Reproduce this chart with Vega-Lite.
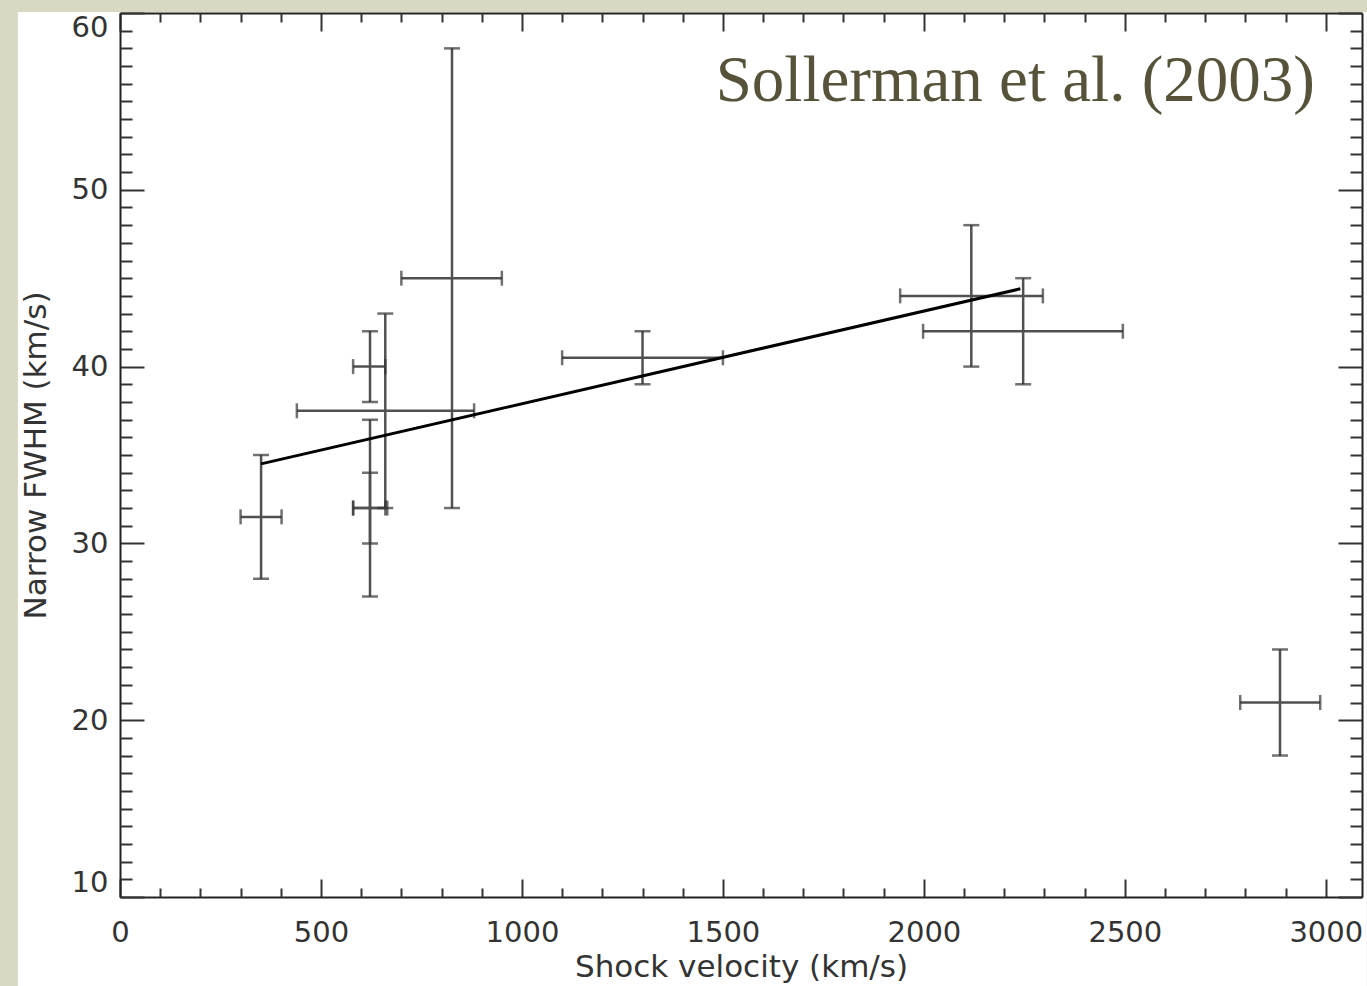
{
  "$schema": "https://vega.github.io/schema/vega-lite/v6.json",
  "width": 1242,
  "height": 884,
  "autosize": {"type": "none"},
  "padding": {"left": 120, "top": 13, "right": 5, "bottom": 89},
  "background": "#d9d8c3",
  "config": {
    "view": {"stroke": null},
    "axis": {
      "grid": false,
      "labelFont": "DejaVu Sans",
      "labelFontSize": 29,
      "labelColor": "#333333",
      "titleFont": "DejaVu Sans",
      "titleFontSize": 31,
      "titleFontWeight": "normal",
      "titleColor": "#333333",
      "tickColor": "#333333",
      "tickWidth": 2,
      "domainColor": "#222222",
      "domainWidth": 2
    }
  },
  "datasets": {
    "pts": [
      {"x": 351, "xlo": 300, "xhi": 402, "y": 31.5, "ylo": 28, "yhi": 35},
      {"x": 622, "xlo": 580, "xhi": 660, "y": 40, "ylo": 38, "yhi": 42},
      {"x": 660, "xlo": 440, "xhi": 881, "y": 37.5, "ylo": 32, "yhi": 43},
      {"x": 622, "xlo": 580, "xhi": 660, "y": 32, "ylo": 27, "yhi": 37},
      {"x": 622, "xlo": 580, "xhi": 665, "y": 32, "ylo": 30, "yhi": 34},
      {"x": 826, "xlo": 700, "xhi": 950, "y": 45, "ylo": 32, "yhi": 58},
      {"x": 1300, "xlo": 1100, "xhi": 1500, "y": 40.5, "ylo": 39, "yhi": 42},
      {"x": 2118, "xlo": 1941, "xhi": 2296, "y": 44, "ylo": 40, "yhi": 48},
      {"x": 2247, "xlo": 1998, "xhi": 2495, "y": 42, "ylo": 39, "yhi": 45},
      {"x": 2886, "xlo": 2787, "xhi": 2986, "y": 21, "ylo": 18, "yhi": 24}
    ],
    "fit": [
      {"x": 351, "y": 34.5},
      {"x": 2240, "y": 44.4}
    ],
    "note": [
      {"x": 2973, "y": 55.0, "label": "Sollerman et al. (2003)"}
    ]
  },
  "layer": [
    {
      "data": {"values": [{"x0": -254, "x1": 3102, "y0": 60.06, "y1": 4.97}]},
      "mark": {"type": "rect", "fill": "#ffffff", "stroke": null},
      "encoding": {
        "x": {"field": "x0", "type": "quantitative", "scale": {"domain": [0, 3090], "nice": false, "zero": false}, "axis": null},
        "x2": {"field": "x1"},
        "y": {"field": "y0", "type": "quantitative", "scale": {"domain": [10, 60], "nice": false, "zero": false}, "axis": null},
        "y2": {"field": "y1"}
      }
    },
    {
      "data": {"name": "pts"},
      "mark": {"type": "rule", "color": "#505050", "strokeWidth": 2.5},
      "encoding": {
        "x": {
          "field": "xlo", "type": "quantitative",
          "scale": {"domain": [0, 3090], "nice": false, "zero": false},
          "axis": {
            "orient": "bottom", "title": "Shock velocity (km/s)", "zindex": 2,
            "values": [0, 500, 1000, 1500, 2000, 2500, 3000], "format": "d",
            "tickSize": -18, "labelPadding": 39, "titlePadding": 5,
            "labelFlush": false, "domain": true
          }
        },
        "x2": {"field": "xhi"},
        "y": {
          "field": "y", "type": "quantitative",
          "scale": {"domain": [10, 60], "nice": false, "zero": false},
          "axis": {
            "orient": "left", "title": "Narrow FWHM (km/s)", "zindex": 2,
            "values": [10, 20, 30, 40, 50, 60], "format": "d",
            "tickSize": -24, "labelPadding": 36, "titlePadding": 19,
            "labelFlush": true, "domain": true
          }
        }
      }
    },
    {
      "data": {"name": "pts"},
      "mark": {"type": "rule", "color": "#505050", "strokeWidth": 2.5},
      "encoding": {
        "x": {
          "field": "x", "type": "quantitative",
          "scale": {"domain": [0, 3090], "nice": false, "zero": false},
          "axis": {
            "orient": "bottom", "title": null, "labels": false, "domain": false, "zindex": 2,
            "values": [100, 200, 300, 400, 600, 700, 800, 900, 1100, 1200, 1300, 1400, 1600, 1700, 1800, 1900, 2100, 2200, 2300, 2400, 2600, 2700, 2800, 2900],
            "tickSize": -9
          }
        },
        "y": {
          "field": "ylo", "type": "quantitative",
          "scale": {"domain": [10, 60], "nice": false, "zero": false},
          "axis": {
            "orient": "left", "title": null, "labels": false, "domain": false, "zindex": 2,
            "values": [11, 12, 13, 14, 15, 16, 17, 18, 19, 21, 22, 23, 24, 25, 26, 27, 28, 29, 31, 32, 33, 34, 35, 36, 37, 38, 39, 41, 42, 43, 44, 45, 46, 47, 48, 49, 51, 52, 53, 54, 55, 56, 57, 58, 59],
            "tickSize": -12
          }
        },
        "y2": {"field": "yhi"}
      }
    },
    {
      "data": {"name": "pts"},
      "mark": {"type": "tick", "orient": "vertical", "color": "#333333", "thickness": 2.5, "size": 15},
      "encoding": {
        "x": {
          "field": "xlo", "type": "quantitative",
          "scale": {"domain": [0, 3090], "nice": false, "zero": false},
          "axis": {
            "orient": "top", "title": null, "labels": false, "domain": true, "zindex": 2,
            "values": [0, 500, 1000, 1500, 2000, 2500, 3000],
            "tickSize": -18
          }
        },
        "y": {
          "field": "y", "type": "quantitative",
          "scale": {"domain": [10, 60], "nice": false, "zero": false},
          "axis": {
            "orient": "right", "title": null, "labels": false, "domain": true, "zindex": 2,
            "values": [10, 20, 30, 40, 50, 60],
            "tickSize": -24
          }
        }
      }
    },
    {
      "data": {"name": "pts"},
      "mark": {"type": "tick", "orient": "vertical", "color": "#333333", "thickness": 2.5, "size": 15},
      "encoding": {
        "x": {
          "field": "xhi", "type": "quantitative",
          "scale": {"domain": [0, 3090], "nice": false, "zero": false},
          "axis": {
            "orient": "top", "title": null, "labels": false, "domain": false, "zindex": 2,
            "values": [100, 200, 300, 400, 600, 700, 800, 900, 1100, 1200, 1300, 1400, 1600, 1700, 1800, 1900, 2100, 2200, 2300, 2400, 2600, 2700, 2800, 2900],
            "tickSize": -9
          }
        },
        "y": {
          "field": "y", "type": "quantitative",
          "scale": {"domain": [10, 60], "nice": false, "zero": false},
          "axis": {
            "orient": "right", "title": null, "labels": false, "domain": false, "zindex": 2,
            "values": [11, 12, 13, 14, 15, 16, 17, 18, 19, 21, 22, 23, 24, 25, 26, 27, 28, 29, 31, 32, 33, 34, 35, 36, 37, 38, 39, 41, 42, 43, 44, 45, 46, 47, 48, 49, 51, 52, 53, 54, 55, 56, 57, 58, 59],
            "tickSize": -12
          }
        }
      }
    },
    {
      "data": {"name": "pts"},
      "mark": {"type": "tick", "orient": "horizontal", "color": "#333333", "thickness": 2.5, "size": 16},
      "encoding": {
        "x": {"field": "x", "type": "quantitative", "scale": {"domain": [0, 3090], "nice": false, "zero": false}, "axis": null},
        "y": {"field": "ylo", "type": "quantitative", "scale": {"domain": [10, 60], "nice": false, "zero": false}, "axis": null}
      }
    },
    {
      "data": {"name": "pts"},
      "mark": {"type": "tick", "orient": "horizontal", "color": "#333333", "thickness": 2.5, "size": 16},
      "encoding": {
        "x": {"field": "x", "type": "quantitative", "scale": {"domain": [0, 3090], "nice": false, "zero": false}, "axis": null},
        "y": {"field": "yhi", "type": "quantitative", "scale": {"domain": [10, 60], "nice": false, "zero": false}, "axis": null}
      }
    },
    {
      "data": {"name": "fit"},
      "mark": {"type": "line", "color": "#000000", "strokeWidth": 3},
      "encoding": {
        "x": {"field": "x", "type": "quantitative", "scale": {"domain": [0, 3090], "nice": false, "zero": false}, "axis": null},
        "y": {"field": "y", "type": "quantitative", "scale": {"domain": [10, 60], "nice": false, "zero": false}, "axis": null}
      }
    },
    {
      "data": {"name": "note"},
      "mark": {"type": "text", "font": "Liberation Serif", "fontSize": 65, "color": "#57533a", "align": "right", "baseline": "alphabetic"},
      "encoding": {
        "x": {"field": "x", "type": "quantitative", "scale": {"domain": [0, 3090], "nice": false, "zero": false}, "axis": null},
        "y": {"field": "y", "type": "quantitative", "scale": {"domain": [10, 60], "nice": false, "zero": false}, "axis": null},
        "text": {"field": "label"}
      }
    }
  ],
  "resolve": {"axis": {"x": "independent", "y": "independent"}}
}
